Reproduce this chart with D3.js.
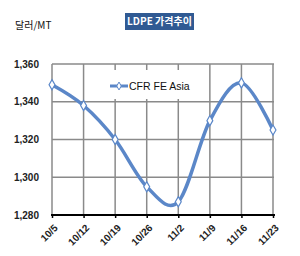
<!DOCTYPE html>
<html>
<head>
<meta charset="utf-8">
<script src="https://cdn.jsdelivr.net/npm/d3@7"></script>
<style>
  body { margin: 0; background: #fff; }
  text { font-family: Arial, "Liberation Sans", sans-serif; }
</style>
</head>
<body>
<div id="chart"></div>
<script>
const weeks = ["10/5", "10/12", "10/19", "10/26", "11/2", "11/9", "11/16", "11/23"]
const cfrFeAsia = [1349, 1338, 1320, 1295, 1287, 1330, 1350, 1325]
const yTicks = [1280, 1300, 1320, 1340, 1360]
const seriesName = "CFR FE Asia"
const title = "LDPE 가격추이"
const unit = "달러/MT"

const width = 300
const height = 256
const plotLeft = 52, plotRight = 273, plotTop = 64, plotBottom = 215

const svg = d3.select("#chart")
    .append("svg")
    .attr("width", width)
    .attr("height", height)

const x = d3.scalePoint()
    .domain(weeks)
    .range([plotLeft, plotRight])

const y = d3.scaleLinear()
    .domain([1280, 1360])
    .range([plotBottom, plotTop])

// grid
svg.selectAll("hgrid")
    .data(yTicks.slice(1))
    .enter()
    .append("line")
    .attr("x1", plotLeft).attr("x2", plotRight + 1)
    .attr("y1", d => y(d)).attr("y2", d => y(d))
    .attr("stroke", "#8a8a8a")
    .attr("stroke-width", 1.5)

svg.selectAll("vgrid")
    .data(weeks)
    .enter()
    .append("line")
    .attr("x1", d => x(d)).attr("x2", d => x(d))
    .attr("y1", plotTop).attr("y2", plotBottom)
    .attr("stroke", "#8a8a8a")
    .attr("stroke-width", 1.5)

// legend box covers the grid
svg.append("rect")
    .attr("x", 107).attr("y", 70)
    .attr("width", 80).attr("height", 29)
    .attr("fill", "#fff")

// bottom axis
const xAxis = svg.append("g")
    .attr("transform", "translate(0," + plotBottom + ")")
    .call(d3.axisBottom(x).tickSize(3).tickSizeOuter(0).tickFormat(""))
xAxis.select(".domain").attr("stroke", "#000").attr("stroke-width", 2)
    .attr("d", "M" + (plotLeft - 1) + ",0H" + (plotRight + 2))
xAxis.selectAll(".tick line").attr("stroke", "#000").attr("stroke-width", 1.5)

svg.selectAll("xlabels")
    .data(weeks)
    .enter()
    .append("text")
    .text(d => d)
    .attr("transform", d => "translate(" + (x(d) + 4) + ",226) rotate(-45)")
    .attr("text-anchor", "end")
    .attr("dy", "0.35em")
    .style("font-size", "10px")
    .style("font-weight", "bold")
    .attr("fill", "#222")

svg.selectAll("ylabels")
    .data(yTicks)
    .enter()
    .append("text")
    .text(d => d3.format(",")(d))
    .attr("x", 39)
    .attr("y", d => y(d))
    .attr("dy", "0.35em")
    .attr("text-anchor", "end")
    .style("font-size", "10px")
    .style("font-weight", "bold")
    .attr("fill", "#222")

// line
const color = "#5b87c8"
const line = d3.line()
    .x((d, i) => x(weeks[i]))
    .y(d => y(d))
    .curve(d3.curveCatmullRom.alpha(0))

svg.append("path")
    .datum(cfrFeAsia)
    .attr("d", line)
    .attr("fill", "none")
    .attr("stroke", color)
    .attr("stroke-width", 3.5)

const diamond = d3.symbol().type(d3.symbolDiamond).size(30)
svg.selectAll("markers")
    .data(cfrFeAsia)
    .enter()
    .append("path")
    .attr("d", diamond)
    .attr("transform", (d, i) => "translate(" + x(weeks[i]) + "," + y(d) + ")")
    .attr("fill", "#fff")
    .attr("stroke", color)
    .attr("stroke-width", 1.2)

// legend
svg.append("line")
    .attr("x1", 110).attr("x2", 128)
    .attr("y1", 86).attr("y2", 86)
    .attr("stroke", color)
    .attr("stroke-width", 3)
svg.append("path")
    .attr("d", d3.symbol().type(d3.symbolDiamond).size(18))
    .attr("transform", "translate(119,86)")
    .attr("fill", "#fff")
    .attr("stroke", color)
svg.append("text")
    .text(seriesName)
    .attr("x", 129).attr("y", 86)
    .attr("dy", "0.35em")
    .style("font-size", "10.5px")
    .attr("fill", "#111")

// title
svg.append("rect")
    .attr("x", 125).attr("y", 13)
    .attr("width", 69).attr("height", 17)
    .attr("fill", "#305a93")
svg.append("text")
    .text(title)
    .attr("x", 159.5).attr("y", 21.5)
    .attr("dy", "0.35em")
    .attr("text-anchor", "middle")
    .style("font-size", "10px")
    .style("font-weight", "bold")
    .style("font-family", "'Noto Sans CJK KR', sans-serif")
    .attr("fill", "#fff")

svg.append("text")
    .text(unit)
    .attr("x", 15).attr("y", 25)
    .attr("dy", "0.35em")
    .style("font-size", "10px")
    .style("font-family", "'Noto Sans CJK KR', sans-serif")
    .attr("fill", "#111")
</script>
</body>
</html>
